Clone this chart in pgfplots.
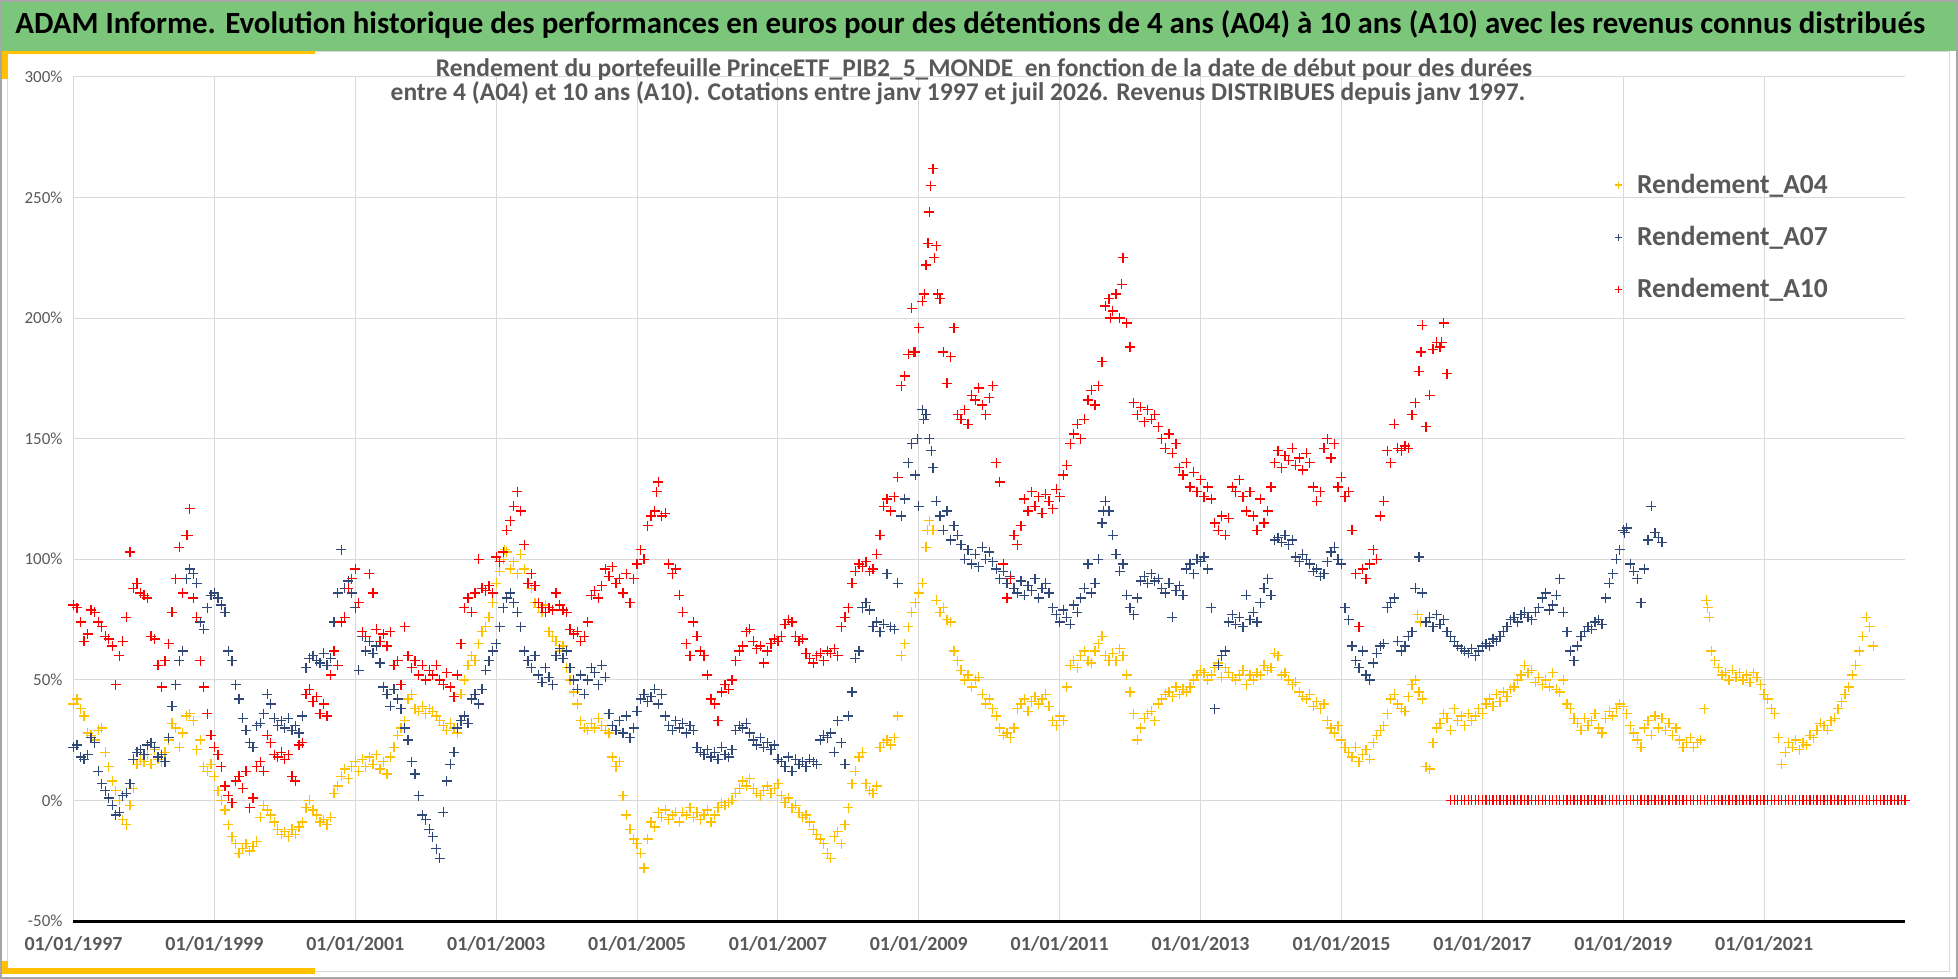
\documentclass[border=0pt]{standalone}
\usepackage{pgfplots}
\pgfplotsset{compat=1.18}
\usepackage{fontspec}
\setmainfont{Carlito}
\definecolor{hdrgreen}{RGB}{124,198,124}
\definecolor{acc}{RGB}{255,192,0}
\definecolor{txtgrey}{RGB}{89,89,89}
\definecolor{gridgrey}{RGB}{217,217,217}
\definecolor{serA}{RGB}{255,192,0}
\definecolor{serB}{RGB}{47,72,120}
\definecolor{serC}{RGB}{255,0,0}
\begin{document}
\begin{tikzpicture}
\useasboundingbox (0,0) rectangle (979bp,489.5bp);
\fill[white] (0,0) rectangle (979bp,489.5bp);
\fill[hdrgreen] (1bp,464bp) rectangle (978bp,488.5bp);
\draw[gridgrey, line width=0.5bp] (3.5bp,3.5bp) rectangle (974.5bp,463.5bp);
\fill[acc] (0.5bp,462.5bp) rectangle (157.5bp,464bp);
\fill[acc] (0.5bp,450bp) rectangle (4bp,464bp);
\fill[acc] (0.5bp,2.5bp) rectangle (157.5bp,5.5bp);
\fill[acc] (0.5bp,2.5bp) rectangle (4bp,9bp);
\draw[gray!70, line width=1bp] (0.5bp,0.5bp) rectangle (978.5bp,489bp);
\node[font=\fontsize{15.5}{17}\selectfont\bfseries, text=black, anchor=west, inner sep=0pt] at (7.5bp,477.5bp) {ADAM Informe. Evolution historique des performances en euros pour des détentions de 4 ans (A04) à 10 ans (A10) avec les revenus connus distribués};
\begin{axis}[
  at={(36.75bp,29bp)}, anchor=south west,
  scale only axis, width=915.75bp, height=422bp,
  xmin=1997, xmax=2023, ymin=-50, ymax=300,
  clip=false,
  xtick={1997,1999,2001,2003,2005,2007,2009,2011,2013,2015,2017,2019,2021},
  xticklabels={01/01/1997,01/01/1999,01/01/2001,01/01/2003,01/01/2005,01/01/2007,01/01/2009,01/01/2011,01/01/2013,01/01/2015,01/01/2017,01/01/2019,01/01/2021},
  ytick={-50,0,50,100,150,200,250,300},
  yticklabels={-50\%,0\%,50\%,100\%,150\%,200\%,250\%,300\%},
  extra y ticks={-50}, extra y tick labels={},
  extra y tick style={grid style={draw=black, line width=1.5bp}},
  grid=major, grid style={draw=gridgrey, line width=0.5bp},
  axis line style={draw=none},
  major tick length=0pt,
  /pgf/number format/assume math mode=true,
  xticklabel style={font=\fontsize{10}{12}\selectfont\bfseries, text=txtgrey, yshift=-4bp},
  yticklabel style={font=\fontsize{8.5}{10}\selectfont, text=txtgrey, xshift=-2bp},
  legend style={at={(0.838,0.895)}, anchor=north west, draw=none, fill=none,
    font=\fontsize{13.8}{16}\selectfont\bfseries, text=txtgrey, row sep=11bp},
  legend cell align=left,
  legend image code/.code={\path (-1.8bp,0bp) (7bp,0bp); \draw[mark size=1.8bp, line width=0.5bp] plot coordinates {(0bp,0bp)};},
]
\addplot[only marks, mark=+, mark size=2.5bp, mark options={line width=0.65bp}, color=serA] coordinates {
(1997.00,40)(1997.05,42)(1997.10,38)(1997.15,35)(1997.20,28)(1997.25,27)(1997.30,25)(1997.35,29)(1997.40,30)(1997.45,20)(1997.50,14)(1997.55,8)(1997.60,4)(1997.65,0)(1997.70,-8)(1997.75,-10)(1997.80,-2)(1997.85,5)(1997.90,15)(1997.95,17)
(1998.00,16)(1998.05,19)(1998.10,15)(1998.15,21)(1998.20,17)(1998.25,16)(1998.30,20)(1998.35,25)(1998.40,32)(1998.45,30)(1998.50,22)(1998.55,28)(1998.60,35)(1998.65,36)(1998.70,33)(1998.75,21)(1998.80,25)(1998.85,14)(1998.90,12)(1998.95,15)
(1999.00,10)(1999.05,4)(1999.10,0)(1999.15,-4)(1999.20,-10)(1999.25,-15)(1999.30,-18)(1999.35,-22)(1999.40,-20)(1999.45,-18)(1999.50,-21)(1999.55,-19)(1999.60,-17)(1999.65,-7)(1999.70,-2)(1999.75,-4)(1999.80,-6)(1999.85,-9)(1999.90,-12)(1999.95,-14)
(2000.00,-13)(2000.05,-15)(2000.10,-12)(2000.15,-14)(2000.20,-11)(2000.25,-9)(2000.30,-3)(2000.35,0)(2000.40,-4)(2000.45,-6)(2000.50,-9)(2000.55,-8)(2000.60,-10)(2000.65,-7)(2000.70,3)(2000.75,6)(2000.80,10)(2000.85,13)(2000.90,9)(2000.95,14)
(2001.00,16)(2001.05,12)(2001.10,17)(2001.15,14)(2001.20,18)(2001.25,15)(2001.30,19)(2001.35,13)(2001.40,16)(2001.45,11)(2001.50,18)(2001.55,22)(2001.60,27)(2001.65,30)(2001.70,33)(2001.75,42)(2001.80,44)(2001.85,38)(2001.90,37)(2001.95,39)
(2002.00,36)(2002.05,38)(2002.10,37)(2002.15,35)(2002.20,33)(2002.25,31)(2002.30,29)(2002.35,32)(2002.40,30)(2002.45,28)(2002.50,44)(2002.55,50)(2002.60,56)(2002.65,60)(2002.70,58)(2002.75,65)(2002.80,70)(2002.85,72)(2002.90,76)(2002.95,82)
(2003.00,90)(2003.05,95)(2003.10,100)(2003.15,103)(2003.20,96)(2003.25,99)(2003.30,94)(2003.35,102)(2003.40,96)(2003.45,90)(2003.50,88)(2003.55,82)(2003.60,80)(2003.65,78)(2003.70,81)(2003.75,70)(2003.80,68)(2003.85,66)(2003.90,62)(2003.95,64)
(2004.00,55)(2004.05,50)(2004.10,45)(2004.15,40)(2004.20,33)(2004.25,30)(2004.30,29)(2004.35,32)(2004.40,30)(2004.45,34)(2004.50,31)(2004.55,29)(2004.60,28)(2004.65,18)(2004.70,14)(2004.75,16)(2004.80,2)(2004.85,-6)(2004.90,-12)(2004.95,-16)
(2005.00,-18)(2005.05,-22)(2005.10,-28)(2005.15,-16)(2005.20,-9)(2005.25,-11)(2005.30,-5)(2005.35,-7)(2005.40,-4)(2005.45,-8)(2005.50,-6)(2005.55,-5)(2005.60,-9)(2005.65,-5)(2005.70,-6)(2005.75,-3)(2005.80,-7)(2005.85,-5)(2005.90,-8)(2005.95,-6)
(2006.00,-4)(2006.05,-9)(2006.10,-6)(2006.15,-3)(2006.20,-1)(2006.25,-2)(2006.30,-1)(2006.35,0)(2006.40,3)(2006.45,5)(2006.50,8)(2006.55,6)(2006.60,9)(2006.65,5)(2006.70,3)(2006.75,2)(2006.80,4)(2006.85,6)(2006.90,3)(2006.95,5)
(2007.00,7)(2007.05,2)(2007.10,-1)(2007.15,1)(2007.20,-3)(2007.25,-2)(2007.30,-5)(2007.35,-7)(2007.40,-6)(2007.45,-9)(2007.50,-12)(2007.55,-14)(2007.60,-16)(2007.65,-18)(2007.70,-22)(2007.75,-24)(2007.80,-15)(2007.85,-13)(2007.90,-18)(2007.95,-10)
(2008.00,-3)(2008.05,7)(2008.10,12)(2008.15,18)(2008.20,20)(2008.25,7)(2008.30,4)(2008.35,3)(2008.40,6)(2008.45,22)(2008.50,24)(2008.55,25)(2008.60,23)(2008.65,26)(2008.70,35)(2008.75,60)(2008.80,65)(2008.85,72)(2008.90,78)(2008.95,82)
(2009.00,86)(2009.05,90)(2009.10,105)(2009.15,116)(2009.20,112)(2009.25,83)(2009.30,78)(2009.35,80)(2009.40,75)(2009.45,74)(2009.50,62)(2009.55,58)(2009.60,54)(2009.65,50)(2009.70,52)(2009.75,47)(2009.80,50)(2009.85,51)(2009.90,44)(2009.95,40)
(2010.00,42)(2010.05,38)(2010.10,35)(2010.15,30)(2010.20,27)(2010.25,28)(2010.30,26)(2010.35,30)(2010.40,38)(2010.45,40)(2010.50,42)(2010.55,37)(2010.60,41)(2010.65,43)(2010.70,40)(2010.75,42)(2010.80,44)(2010.85,39)(2010.90,33)(2010.95,31)
(2011.00,35)(2011.05,33)(2011.10,47)(2011.15,56)(2011.20,58)(2011.25,55)(2011.30,60)(2011.35,62)(2011.40,58)(2011.45,57)(2011.50,62)(2011.55,65)(2011.60,68)(2011.65,60)(2011.70,58)(2011.75,61)(2011.80,58)(2011.85,63)(2011.90,60)(2011.95,52)
(2012.00,45)(2012.05,36)(2012.10,25)(2012.15,30)(2012.20,34)(2012.25,36)(2012.30,37)(2012.35,33)(2012.40,40)(2012.45,42)(2012.50,44)(2012.55,45)(2012.60,43)(2012.65,47)(2012.70,44)(2012.75,46)(2012.80,45)(2012.85,47)(2012.90,50)(2012.95,52)
(2013.00,54)(2013.05,53)(2013.10,50)(2013.15,52)(2013.20,55)(2013.25,57)(2013.30,51)(2013.35,55)(2013.40,53)(2013.45,51)(2013.50,50)(2013.55,52)(2013.60,54)(2013.65,48)(2013.70,52)(2013.75,50)(2013.80,53)(2013.85,52)(2013.90,56)(2013.95,54)
(2014.00,55)(2014.05,61)(2014.10,60)(2014.15,52)(2014.20,53)(2014.25,50)(2014.30,48)(2014.35,49)(2014.40,45)(2014.45,43)(2014.50,42)(2014.55,44)(2014.60,39)(2014.65,41)(2014.70,38)(2014.75,40)(2014.80,33)(2014.85,30)(2014.90,28)(2014.95,31)
(2015.00,25)(2015.05,22)(2015.10,20)(2015.15,18)(2015.20,22)(2015.25,16)(2015.30,19)(2015.35,21)(2015.40,17)(2015.45,24)(2015.50,27)(2015.55,29)(2015.60,31)(2015.65,36)(2015.70,42)(2015.75,44)(2015.80,40)(2015.85,38)(2015.90,37)(2015.95,43)
(2016.00,48)(2016.05,50)(2016.10,45)(2016.15,42)(2016.20,14)(2016.25,13)(2016.30,24)(2016.35,30)(2016.40,32)(2016.45,36)(2016.50,34)(2016.55,29)(2016.60,38)(2016.65,33)(2016.70,35)(2016.75,31)(2016.80,36)(2016.85,33)(2016.90,35)(2016.95,38)
(2017.00,36)(2017.05,40)(2017.10,42)(2017.15,39)(2017.20,44)(2017.25,41)(2017.30,45)(2017.35,43)(2017.40,46)(2017.45,47)(2017.50,50)(2017.55,52)(2017.60,56)(2017.65,53)(2017.70,54)(2017.75,49)(2017.80,51)(2017.85,48)(2017.90,50)(2017.95,47)
(2018.00,53)(2018.05,46)(2018.10,45)(2018.15,50)(2018.20,40)(2018.25,38)(2018.30,34)(2018.35,32)(2018.40,29)(2018.45,34)(2018.50,31)(2018.55,33)(2018.60,36)(2018.65,30)(2018.70,28)(2018.75,34)(2018.80,37)(2018.85,35)(2018.90,38)(2018.95,40)
(2019.00,39)(2019.05,36)(2019.10,31)(2019.15,28)(2019.20,25)(2019.25,22)(2019.30,30)(2019.35,33)(2019.40,27)(2019.45,35)(2019.50,30)(2019.55,34)(2019.60,29)(2019.65,32)(2019.70,27)(2019.75,30)(2019.80,25)(2019.85,22)(2019.90,24)(2019.95,26)
(2020.00,22)(2020.05,24)(2020.10,25)(2020.15,38)(2020.20,80)(2020.25,62)(2020.30,58)(2020.35,55)(2020.40,52)(2020.45,53)(2020.50,50)(2020.55,54)(2020.60,51)(2020.65,53)(2020.70,50)(2020.75,52)(2020.80,49)(2020.85,53)(2020.90,51)(2020.95,48)
(2021.00,44)(2021.05,42)(2021.10,38)(2021.15,36)(2021.20,26)(2021.25,15)(2021.30,20)(2021.35,24)(2021.40,22)(2021.45,25)(2021.50,21)(2021.55,24)(2021.60,23)(2021.65,27)(2021.70,26)(2021.75,29)(2021.80,32)(2021.85,31)(2021.90,29)(2021.95,33)
(2022.00,34)(2022.05,38)(2022.10,41)(2022.15,44)(2022.20,47)(2022.25,52)(2022.30,56)(2022.35,62)(2022.40,68)(2022.45,76)(2022.50,72)(2022.55,64)
(2009.12,112)(2003.12,104)(2016.08,77)(2016.12,74)(2020.22,76)(2020.18,83)
};
\addlegendentry{Rendement\_A04}
\addplot[only marks, mark=+, mark size=2.5bp, mark options={line width=0.65bp}, color=serB] coordinates {
(1997.00,22)(1997.05,23)(1997.10,18)(1997.15,17)(1997.20,19)(1997.25,26)(1997.30,24)(1997.35,12)(1997.40,7)(1997.45,4)(1997.50,1)(1997.55,-2)(1997.60,-6)(1997.65,-5)(1997.70,2)(1997.75,3)(1997.80,7)(1997.85,17)(1997.90,20)(1997.95,21)
(1998.00,19)(1998.05,23)(1998.10,24)(1998.15,22)(1998.20,18)(1998.25,19)(1998.30,16)(1998.35,26)(1998.40,39)(1998.45,48)(1998.50,58)(1998.55,62)(1998.60,92)(1998.65,96)(1998.70,94)(1998.75,90)(1998.80,74)(1998.85,71)(1998.90,80)(1998.95,85)
(1999.00,86)(1999.05,84)(1999.10,81)(1999.15,78)(1999.20,62)(1999.25,58)(1999.30,48)(1999.35,42)(1999.40,34)(1999.45,29)(1999.50,24)(1999.55,22)(1999.60,31)(1999.65,32)(1999.70,36)(1999.75,44)(1999.80,40)(1999.85,34)(1999.90,31)(1999.95,33)
(2000.00,30)(2000.05,34)(2000.10,29)(2000.15,31)(2000.20,28)(2000.25,35)(2000.30,55)(2000.35,59)(2000.40,60)(2000.45,58)(2000.50,57)(2000.55,61)(2000.60,56)(2000.65,59)(2000.70,74)(2000.75,86)(2000.80,104)(2000.85,88)(2000.90,91)(2000.95,86)
(2001.00,80)(2001.05,54)(2001.10,68)(2001.15,62)(2001.20,66)(2001.25,61)(2001.30,64)(2001.35,57)(2001.40,47)(2001.45,44)(2001.50,39)(2001.55,46)(2001.60,42)(2001.65,38)(2001.70,30)(2001.75,25)(2001.80,16)(2001.85,11)(2001.90,2)(2001.95,-6)
(2002.00,-8)(2002.05,-12)(2002.10,-15)(2002.15,-20)(2002.20,-24)(2002.25,-5)(2002.30,8)(2002.35,15)(2002.40,20)(2002.45,30)(2002.50,33)(2002.55,35)(2002.60,32)(2002.65,42)(2002.70,44)(2002.75,40)(2002.80,46)(2002.85,54)(2002.90,58)(2002.95,62)
(2003.00,65)(2003.05,72)(2003.10,80)(2003.15,84)(2003.20,86)(2003.25,82)(2003.30,78)(2003.35,72)(2003.40,62)(2003.45,58)(2003.50,55)(2003.55,60)(2003.60,52)(2003.65,49)(2003.70,55)(2003.75,51)(2003.80,48)(2003.85,60)(2003.90,63)(2003.95,59)
(2004.00,62)(2004.05,55)(2004.10,50)(2004.15,46)(2004.20,52)(2004.25,44)(2004.30,50)(2004.35,55)(2004.40,53)(2004.45,48)(2004.50,56)(2004.55,51)(2004.60,36)(2004.65,31)(2004.70,29)(2004.75,33)(2004.80,28)(2004.85,35)(2004.90,26)(2004.95,30)
(2005.00,37)(2005.05,42)(2005.10,44)(2005.15,41)(2005.20,43)(2005.25,46)(2005.30,40)(2005.35,44)(2005.40,35)(2005.45,31)(2005.50,29)(2005.55,33)(2005.60,30)(2005.65,32)(2005.70,28)(2005.75,31)(2005.80,29)(2005.85,22)(2005.90,20)(2005.95,19)
(2006.00,21)(2006.05,18)(2006.10,20)(2006.15,17)(2006.20,22)(2006.25,19)(2006.30,18)(2006.35,21)(2006.40,29)(2006.45,31)(2006.50,30)(2006.55,32)(2006.60,28)(2006.65,25)(2006.70,23)(2006.75,26)(2006.80,22)(2006.85,24)(2006.90,21)(2006.95,23)
(2007.00,17)(2007.05,16)(2007.10,14)(2007.15,18)(2007.20,12)(2007.25,17)(2007.30,15)(2007.35,16)(2007.40,14)(2007.45,17)(2007.50,16)(2007.55,15)(2007.60,25)(2007.65,27)(2007.70,26)(2007.75,28)(2007.80,20)(2007.85,33)(2007.90,24)(2007.95,15)
(2008.00,35)(2008.05,45)(2008.10,59)(2008.15,62)(2008.20,80)(2008.25,82)(2008.30,79)(2008.35,72)(2008.40,74)(2008.45,70)(2008.50,73)(2008.55,94)(2008.60,72)(2008.65,71)(2008.70,90)(2008.75,118)(2008.80,125)(2008.85,140)(2008.90,148)(2008.95,135)
(2009.00,122)(2009.05,162)(2009.10,160)(2009.15,150)(2009.20,138)(2009.25,124)(2009.30,118)(2009.35,112)(2009.40,120)(2009.45,108)(2009.50,114)(2009.55,110)(2009.60,106)(2009.65,100)(2009.70,104)(2009.75,98)(2009.80,102)(2009.85,97)(2009.90,105)(2009.95,100)
(2010.00,103)(2010.05,99)(2010.10,96)(2010.15,92)(2010.20,95)(2010.25,90)(2010.30,93)(2010.35,88)(2010.40,86)(2010.45,91)(2010.50,85)(2010.55,89)(2010.60,87)(2010.65,92)(2010.70,84)(2010.75,88)(2010.80,90)(2010.85,86)(2010.90,80)(2010.95,77)
(2011.00,74)(2011.05,79)(2011.10,76)(2011.15,73)(2011.20,81)(2011.25,78)(2011.30,84)(2011.35,88)(2011.40,98)(2011.45,86)(2011.50,90)(2011.55,100)(2011.60,115)(2011.65,124)(2011.70,120)(2011.75,110)(2011.80,102)(2011.85,95)(2011.90,98)(2011.95,85)
(2012.00,80)(2012.05,77)(2012.10,84)(2012.15,91)(2012.20,93)(2012.25,90)(2012.30,94)(2012.35,91)(2012.40,92)(2012.45,88)(2012.50,86)(2012.55,90)(2012.60,76)(2012.65,87)(2012.70,89)(2012.75,85)(2012.80,96)(2012.85,98)(2012.90,94)(2012.95,100)
(2013.00,99)(2013.05,101)(2013.10,96)(2013.15,80)(2013.20,38)(2013.25,56)(2013.30,60)(2013.35,62)(2013.40,74)(2013.45,77)(2013.50,73)(2013.55,76)(2013.60,72)(2013.65,85)(2013.70,75)(2013.75,78)(2013.80,74)(2013.85,82)(2013.90,88)(2013.95,92)
(2014.00,85)(2014.05,108)(2014.10,109)(2014.15,107)(2014.20,110)(2014.25,106)(2014.30,108)(2014.35,101)(2014.40,99)(2014.45,102)(2014.50,100)(2014.55,98)(2014.60,95)(2014.65,96)(2014.70,93)(2014.75,94)(2014.80,99)(2014.85,103)(2014.90,105)(2014.95,100)
(2015.00,98)(2015.05,80)(2015.10,75)(2015.15,64)(2015.20,58)(2015.25,55)(2015.30,62)(2015.35,52)(2015.40,50)(2015.45,57)(2015.50,61)(2015.55,64)(2015.60,65)(2015.65,80)(2015.70,82)(2015.75,84)(2015.80,66)(2015.85,62)(2015.90,64)(2015.95,68)
(2016.00,70)(2016.05,88)(2016.10,101)(2016.15,86)(2016.20,74)(2016.25,76)(2016.30,72)(2016.35,77)(2016.40,73)(2016.45,75)(2016.50,70)(2016.55,68)(2016.60,66)(2016.65,64)(2016.70,63)(2016.75,62)(2016.80,61)(2016.85,63)(2016.90,60)(2016.95,62)
(2017.00,64)(2017.05,65)(2017.10,64)(2017.15,67)(2017.20,66)(2017.25,68)(2017.30,70)(2017.35,72)(2017.40,75)(2017.45,76)(2017.50,74)(2017.55,77)(2017.60,78)(2017.65,76)(2017.70,75)(2017.75,78)(2017.80,80)(2017.85,84)(2017.90,86)(2017.95,79)
(2018.00,81)(2018.05,85)(2018.10,92)(2018.15,78)(2018.20,70)(2018.25,62)(2018.30,58)(2018.35,64)(2018.40,68)(2018.45,70)(2018.50,72)(2018.55,71)(2018.60,74)(2018.65,75)(2018.70,73)(2018.75,84)(2018.80,90)(2018.85,94)(2018.90,100)(2018.95,104)
(2019.00,112)(2019.05,113)(2019.10,98)(2019.15,95)(2019.20,92)(2019.25,82)(2019.30,96)(2019.35,108)(2019.40,122)(2019.45,111)(2019.50,109)(2019.55,107)
(2009.07,158)(2009.18,145)(2008.98,150)(2011.62,120)(2019.02,111)
};
\addlegendentry{Rendement\_A07}
\addplot[only marks, mark=+, mark size=2.5bp, mark options={line width=0.65bp}, color=serC] coordinates {
(1997.00,81)(1997.05,80)(1997.10,74)(1997.15,66)(1997.20,69)(1997.25,79)(1997.30,78)(1997.35,74)(1997.40,72)(1997.45,68)(1997.50,67)(1997.55,64)(1997.60,48)(1997.65,60)(1997.70,66)(1997.75,76)(1997.80,103)(1997.85,88)(1997.90,90)(1997.95,86)
(1998.00,85)(1998.05,84)(1998.10,68)(1998.15,67)(1998.20,56)(1998.25,47)(1998.30,58)(1998.35,65)(1998.40,78)(1998.45,92)(1998.50,105)(1998.55,86)(1998.60,110)(1998.65,121)(1998.70,84)(1998.75,76)(1998.80,58)(1998.85,47)(1998.90,36)(1998.95,27)
(1999.00,22)(1999.05,19)(1999.10,14)(1999.15,6)(1999.20,2)(1999.25,-1)(1999.30,8)(1999.35,10)(1999.40,5)(1999.45,12)(1999.50,-3)(1999.55,1)(1999.60,14)(1999.65,16)(1999.70,12)(1999.75,27)(1999.80,24)(1999.85,19)(1999.90,18)(1999.95,20)
(2000.00,17)(2000.05,19)(2000.10,10)(2000.15,8)(2000.20,23)(2000.25,24)(2000.30,44)(2000.35,46)(2000.40,41)(2000.45,43)(2000.50,36)(2000.55,40)(2000.60,35)(2000.65,52)(2000.70,62)(2000.75,56)(2000.80,74)(2000.85,76)(2000.90,88)(2000.95,92)
(2001.00,96)(2001.05,82)(2001.10,70)(2001.15,68)(2001.20,94)(2001.25,86)(2001.30,71)(2001.35,66)(2001.40,69)(2001.45,64)(2001.50,70)(2001.55,56)(2001.60,58)(2001.65,48)(2001.70,72)(2001.75,60)(2001.80,55)(2001.85,58)(2001.90,52)(2001.95,56)
(2002.00,50)(2002.05,54)(2002.10,52)(2002.15,56)(2002.20,50)(2002.25,48)(2002.30,53)(2002.35,47)(2002.40,43)(2002.45,52)(2002.50,65)(2002.55,80)(2002.60,84)(2002.65,78)(2002.70,86)(2002.75,100)(2002.80,88)(2002.85,87)(2002.90,89)(2002.95,86)
(2003.00,101)(2003.05,99)(2003.10,103)(2003.15,112)(2003.20,116)(2003.25,122)(2003.30,128)(2003.35,120)(2003.40,106)(2003.45,90)(2003.50,94)(2003.55,89)(2003.60,82)(2003.65,80)(2003.70,78)(2003.75,80)(2003.80,79)(2003.85,86)(2003.90,81)(2003.95,79)
(2004.00,78)(2004.05,71)(2004.10,69)(2004.15,70)(2004.20,66)(2004.25,68)(2004.30,74)(2004.35,85)(2004.40,87)(2004.45,84)(2004.50,89)(2004.55,96)(2004.60,93)(2004.65,97)(2004.70,90)(2004.75,92)(2004.80,86)(2004.85,94)(2004.90,82)(2004.95,92)
(2005.00,98)(2005.05,104)(2005.10,100)(2005.15,114)(2005.20,118)(2005.25,120)(2005.30,132)(2005.35,118)(2005.40,119)(2005.45,98)(2005.50,94)(2005.55,96)(2005.60,85)(2005.65,78)(2005.70,65)(2005.75,60)(2005.80,74)(2005.85,68)(2005.90,62)(2005.95,60)
(2006.00,52)(2006.05,42)(2006.10,40)(2006.15,33)(2006.20,45)(2006.25,48)(2006.30,46)(2006.35,50)(2006.40,58)(2006.45,62)(2006.50,64)(2006.55,70)(2006.60,71)(2006.65,66)(2006.70,63)(2006.75,64)(2006.80,57)(2006.85,62)(2006.90,65)(2006.95,67)
(2007.00,66)(2007.05,68)(2007.10,73)(2007.15,75)(2007.20,74)(2007.25,68)(2007.30,66)(2007.35,67)(2007.40,61)(2007.45,59)(2007.50,57)(2007.55,60)(2007.60,61)(2007.65,58)(2007.70,62)(2007.75,61)(2007.80,63)(2007.85,60)(2007.90,72)(2007.95,76)
(2008.00,80)(2008.05,90)(2008.10,95)(2008.15,98)(2008.20,97)(2008.25,99)(2008.30,95)(2008.35,96)(2008.40,102)(2008.45,110)(2008.50,122)(2008.55,125)(2008.60,120)(2008.65,126)(2008.70,134)(2008.75,172)(2008.80,176)(2008.85,185)(2008.90,204)(2008.95,186)
(2009.00,196)(2009.05,207)(2009.10,222)(2009.15,244)(2009.20,262)(2009.25,230)(2009.30,208)(2009.35,186)(2009.40,173)(2009.45,184)(2009.50,196)(2009.55,160)(2009.60,158)(2009.65,162)(2009.70,156)(2009.75,168)(2009.80,166)(2009.85,171)(2009.90,164)(2009.95,160)
(2010.00,167)(2010.05,172)(2010.10,140)(2010.15,132)(2010.20,98)(2010.25,84)(2010.30,92)(2010.35,110)(2010.40,106)(2010.45,114)(2010.50,125)(2010.55,120)(2010.60,128)(2010.65,122)(2010.70,126)(2010.75,119)(2010.80,127)(2010.85,124)(2010.90,121)(2010.95,129)
(2011.00,126)(2011.05,135)(2011.10,139)(2011.15,148)(2011.20,152)(2011.25,156)(2011.30,150)(2011.35,158)(2011.40,166)(2011.45,170)(2011.50,164)(2011.55,172)(2011.60,182)(2011.65,205)(2011.70,208)(2011.75,203)(2011.80,210)(2011.85,200)(2011.90,225)(2011.95,198)
(2012.00,188)(2012.05,165)(2012.10,160)(2012.15,163)(2012.20,157)(2012.25,162)(2012.30,158)(2012.35,160)(2012.40,155)(2012.45,150)(2012.50,146)(2012.55,152)(2012.60,144)(2012.65,148)(2012.70,138)(2012.75,135)(2012.80,140)(2012.85,130)(2012.90,136)(2012.95,128)
(2013.00,133)(2013.05,126)(2013.10,130)(2013.15,125)(2013.20,115)(2013.25,112)(2013.30,118)(2013.35,110)(2013.40,117)(2013.45,130)(2013.50,128)(2013.55,133)(2013.60,126)(2013.65,120)(2013.70,128)(2013.75,118)(2013.80,112)(2013.85,125)(2013.90,115)(2013.95,120)
(2014.00,130)(2014.05,140)(2014.10,145)(2014.15,138)(2014.20,143)(2014.25,141)(2014.30,146)(2014.35,139)(2014.40,142)(2014.45,137)(2014.50,144)(2014.55,140)(2014.60,130)(2014.65,124)(2014.70,128)(2014.75,146)(2014.80,150)(2014.85,142)(2014.90,148)(2014.95,130)
(2015.00,134)(2015.05,126)(2015.10,128)(2015.15,112)(2015.20,94)(2015.25,72)(2015.30,96)(2015.35,92)(2015.40,98)(2015.45,104)(2015.50,100)(2015.55,118)(2015.60,124)(2015.65,145)(2015.70,140)(2015.75,156)(2015.80,146)(2015.85,145)(2015.90,147)(2015.95,146)
(2016.00,160)(2016.05,165)(2016.10,178)(2016.15,197)(2016.20,155)(2016.25,168)(2016.30,187)(2016.35,190)(2016.40,188)(2016.45,198)(2016.50,177)
(2009.17,255)(2009.13,231)(2009.22,225)(2009.27,210)(2008.93,186)(2009.08,210)(2011.88,214)(2011.72,200)(2016.13,186)(2016.42,190)(2005.28,128)(1998.62,110)
(2016.55,0)(2016.60,0)(2016.65,0)(2016.70,0)(2016.75,0)(2016.80,0)(2016.85,0)(2016.90,0)(2016.95,0)
(2017.00,0)(2017.05,0)(2017.10,0)(2017.15,0)(2017.20,0)(2017.25,0)(2017.30,0)(2017.35,0)(2017.40,0)(2017.45,0)(2017.50,0)(2017.55,0)(2017.60,0)(2017.65,0)(2017.70,0)(2017.75,0)(2017.80,0)(2017.85,0)(2017.90,0)(2017.95,0)
(2018.00,0)(2018.05,0)(2018.10,0)(2018.15,0)(2018.20,0)(2018.25,0)(2018.30,0)(2018.35,0)(2018.40,0)(2018.45,0)(2018.50,0)(2018.55,0)(2018.60,0)(2018.65,0)(2018.70,0)(2018.75,0)(2018.80,0)(2018.85,0)(2018.90,0)(2018.95,0)
(2019.00,0)(2019.05,0)(2019.10,0)(2019.15,0)(2019.20,0)(2019.25,0)(2019.30,0)(2019.35,0)(2019.40,0)(2019.45,0)(2019.50,0)(2019.55,0)(2019.60,0)(2019.65,0)(2019.70,0)(2019.75,0)(2019.80,0)(2019.85,0)(2019.90,0)(2019.95,0)
(2020.00,0)(2020.05,0)(2020.10,0)(2020.15,0)(2020.20,0)(2020.25,0)(2020.30,0)(2020.35,0)(2020.40,0)(2020.45,0)(2020.50,0)(2020.55,0)(2020.60,0)(2020.65,0)(2020.70,0)(2020.75,0)(2020.80,0)(2020.85,0)(2020.90,0)(2020.95,0)
(2021.00,0)(2021.05,0)(2021.10,0)(2021.15,0)(2021.20,0)(2021.25,0)(2021.30,0)(2021.35,0)(2021.40,0)(2021.45,0)(2021.50,0)(2021.55,0)(2021.60,0)(2021.65,0)(2021.70,0)(2021.75,0)(2021.80,0)(2021.85,0)(2021.90,0)(2021.95,0)
(2022.00,0)(2022.05,0)(2022.10,0)(2022.15,0)(2022.20,0)(2022.25,0)(2022.30,0)(2022.35,0)(2022.40,0)(2022.45,0)(2022.50,0)(2022.55,0)(2022.60,0)(2022.65,0)(2022.70,0)(2022.75,0)(2022.80,0)(2022.85,0)(2022.90,0)(2022.95,0)(2023.00,0)
};
\addlegendentry{Rendement\_A10}
\end{axis}
\node[font=\fontsize{12.8}{14}\selectfont\bfseries, text=txtgrey] at (492bp,454.7bp) {Rendement du portefeuille PrinceETF\_PIB2\_5\_MONDE\ \ en fonction de la date de début pour des durées};
\node[font=\fontsize{12.8}{14}\selectfont\bfseries, text=txtgrey] at (479bp,442.7bp) {entre 4 (A04) et 10 ans (A10). Cotations entre janv 1997 et juil 2026. Revenus DISTRIBUES depuis janv 1997.};
\end{tikzpicture}
\end{document}
